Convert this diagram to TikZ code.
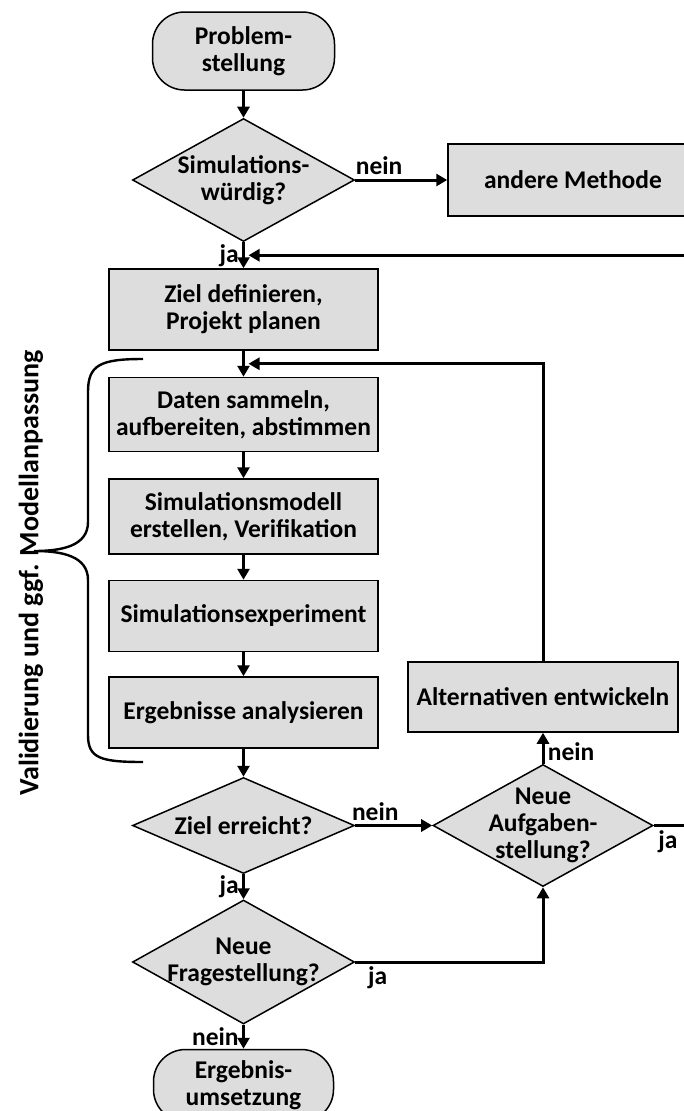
\documentclass[tikz,border=0pt]{standalone}
\usepackage{fontspec}
\setmainfont{Carlito}
\usetikzlibrary{positioning, shapes.geometric, arrows.meta, calc}
\definecolor{boxgray}{RGB}{221,221,221}

\begin{document}
\begin{tikzpicture}[x=1pt, y=-1pt, node distance=26pt,
		font=\bfseries\fontsize{25.5}{27}\selectfont,
		every node/.style={align=center},
		terminal/.style={draw, fill=boxgray, line width=1.5pt, rounded corners=32pt, minimum width=182pt, minimum height=78pt},
		process/.style={draw, fill=boxgray, line width=1.5pt, minimum width=269pt, minimum height=74pt, inner sep=2pt},
		decision/.style={diamond, draw, fill=boxgray, line width=1.5pt, aspect=1.8, inner sep=-10pt, minimum width=222pt, minimum height=123pt},
		flow/.style={line width=3pt, -{Triangle[length=11pt, width=12pt]}},
		plain/.style={line width=3pt}]
		\useasboundingbox (0,0) rectangle (684,1111);
		
		\node[terminal]                                  (prob)    at (243.5,51) {Problem-\\stellung};
		\node[decision, below=27pt of prob]              (simw)    {Simulations-\\würdig?};
		\node[process, right=92pt of simw, minimum width=250pt, minimum height=72pt] (andere) {andere Methode};
		\node[process, below=of simw, minimum height=81pt] (zdef)  {Ziel definieren,\\Projekt planen};
		\node[process, below=of zdef]                    (daten)   {Daten sammeln,\\aufbereiten, abstimmen};
		\node[process, below=of daten, minimum height=75pt] (modell) {Simulationsmodell\\erstellen, Verifikation};
		\node[process, below=25pt of modell, minimum height=71pt] (exp) {Simulationsexperiment};
		\node[process, below=24pt of exp, minimum height=71pt] (analyse) {Ergebnisse analysieren};
		\node[decision, below=28pt of analyse, minimum height=96pt] (ziel) {Ziel erreicht?};
		\node[decision, below=25pt of ziel, minimum height=124pt] (frage) {Neue\\Fragestellung?};
		\node[terminal, below=24pt of frage, minimum width=180pt, minimum height=72pt] (umsetz) {Ergebnis-\\umsetzung};
		\node[decision, right=77pt of ziel, minimum width=220pt, minimum height=122pt] (aufg) {Neue\\Aufgaben-\\stellung?};
		\node[process, above=31pt of aufg, minimum width=270pt, minimum height=70pt] (alt) {Alternativen entwickeln};
		
		\node[rotate=90, font=\bfseries\fontsize{28}{30}\selectfont] (valid) at (31,573) {Validierung und ggf. Modellanpassung};
		
		% Klammer um die Modellierungsschritte
		\draw[line width=2.4pt] (143,359) .. controls (100,359) and (88,365) .. (88,392) -- (88,522)
			.. controls (88,546) and (62,551) .. (34,551) .. controls (62,551) and (88,556) .. (88,580)
			-- (88,735) .. controls (88,758) and (100,762) .. (143,762);
		
		\coordinate (rim)  at (684,0);
		\coordinate (top)  at ($(simw.south)!.5!(zdef.north)$);
		\coordinate (back) at ($(zdef.south)!.5!(daten.north)$);
		
		\draw[flow] (prob) -- (simw);
		\draw[flow] (simw) -- node[pos=0.26, above] {nein} (andere);
		\draw[flow] (simw) -- node[left] {ja} (zdef);
		\draw[flow, shorten >=5pt] (top -| rim) -- (top);
		\draw[flow] (zdef) -- (daten);
		\draw[flow, shorten >=5pt] (alt.north) |- (back);
		\draw[flow] (daten) -- (modell);
		\draw[flow] (modell) -- (exp);
		\draw[flow] (exp) -- (analyse);
		\draw[flow] (analyse) -- (ziel);
		\draw[flow] (ziel) -- node[left] {ja} (frage);
		\draw[flow] (frage) -- node[left] {nein} (umsetz);
		\draw[flow] (ziel) -- node[pos=0.26, above] {nein} (aufg);
		\draw[flow] (frage.east) -| node[pos=0.06, below] {ja} (aufg.south);
		\draw[flow] (aufg) -- node[pos=0.4, right] {nein} (alt);
		\draw[plain] (aufg.east) -- node[pos=0.47, below] {ja} (aufg.east -| rim);
	\end{tikzpicture}
\end{document}
